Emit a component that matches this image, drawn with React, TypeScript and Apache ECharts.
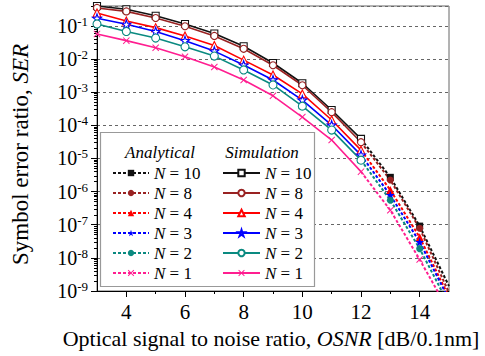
import React, { useEffect, useRef } from 'react';
import * as echarts from 'echarts';

// ---- data ----
const osnrSim = [3, 4, 5, 6, 7, 8, 9, 10, 11, 12];
const osnrAna = [12, 13, 14, 15];
const nValues = ['10', '8', '4', '3', '2', '1'];

const simN10 = [4.0e-1, 3.2e-1, 2.04e-1, 1.15e-1, 5.9e-2, 2.45e-2, 7.6e-3, 1.86e-3, 2.9e-4, 3.9e-5];
const simN8 = [3.5e-1, 2.75e-1, 1.74e-1, 9.8e-2, 5.0e-2, 2.04e-2, 6.5e-3, 1.62e-3, 2.5e-4, 3.1e-5];
const simN4 = [2.45e-1, 1.41e-1, 8.9e-2, 5.0e-2, 2.57e-2, 9.3e-3, 3.3e-3, 8.9e-4, 1.45e-4, 1.78e-5];
const simN3 = [1.7e-1, 1.12e-1, 6.8e-2, 3.6e-2, 1.74e-2, 6.6e-3, 2.34e-3, 5.8e-4, 1.02e-4, 1.26e-5];
const simN2 = [1.15e-1, 6.8e-2, 4.3e-2, 2.34e-2, 1.23e-2, 4.7e-3, 1.66e-3, 3.8e-4, 7.2e-5, 8.9e-6];
const simN1 = [5.75e-2, 3.6e-2, 2.2e-2, 1.17e-2, 5.75e-3, 2.34e-3, 7.8e-4, 1.78e-4, 3.6e-5, 4.0e-6];

const anaN10 = [3.9e-5, 2.7e-6, 9.1e-8, 1.4e-9];
const anaN8 = [3.1e-5, 2.24e-6, 7.8e-8, 8.9e-10];
const anaN4 = [1.78e-5, 1.12e-6, 4.2e-8, 6.6e-10];
const anaN3 = [1.26e-5, 7.8e-7, 3.0e-8, 5.5e-10];
const anaN2 = [8.9e-6, 5.5e-7, 1.9e-8, 3.8e-10];
const anaN1 = [4.0e-6, 2.75e-7, 8.9e-9, 2.4e-10];

const xTickLabels = [4, 6, 8, 10, 12, 14];
const xMinorTicks = [5, 7, 9, 11, 13];
const yDecades = [-9, -8, -7, -6, -5, -4, -3, -2, -1];
const yMin = 1e-9;
const yMax = 0.4;

const FONT = 'Liberation Serif';

const STAR = 'path://M5,0 L6.2,3.6 L10,3.6 L6.9,5.9 L8.1,9.5 L5,7.3 L1.9,9.5 L3.1,5.9 L0,3.6 L3.8,3.6 Z';
const XMARK = 'path://M0,1 L1,0 L5,4 L9,0 L10,1 L6,5 L10,9 L9,10 L5,6 L1,10 L0,9 L4,5 Z';

const colors = ['#111111', '#992222', '#ff0000', '#0000ff', '#0a8a80', '#ff1e90'];
const simData = [simN10, simN8, simN4, simN3, simN2, simN1];
const anaData = [anaN10, anaN8, anaN4, anaN3, anaN2, anaN1];
const simSymbols = ['rect', 'circle', 'triangle', STAR, 'circle', XMARK];
const anaSymbols = ['rect', 'circle', 'triangle', STAR, 'circle', XMARK];
const simSizes = [7, 7, 8, 9, 8, 7];
const anaSizes = [7, 7, 8, 9, 7, 7];

const simNames = nValues.map((n) => 'Simulation N=' + n);
const anaNames = nValues.map((n) => 'Analytical N=' + n);

export default function App() {
  const ref = useRef<HTMLDivElement>(null);

  useEffect(() => {
    document.body.style.margin = '0';
    if (!ref.current) return;
    const chart = echarts.init(ref.current, undefined, { renderer: 'svg' });

    const minorY: number[] = [];
    const logMax = Math.log10(yMax);
    yDecades.forEach((d) => {
      for (let k = 2; k <= 9; k++) {
        const v = d + Math.log10(k);
        if (v <= logMax + 1e-9) minorY.push(v);
      }
    });

    const series: any[] = [];
    anaData.forEach((arr, i) => {
      series.push({
        name: anaNames[i],
        type: 'line',
        xAxisIndex: 0,
        yAxisIndex: 0,
        data: osnrAna.map((x, j) => [x, arr[j]]),
        symbol: anaSymbols[i],
        symbolSize: (v: number[]) => (v[0] === 13 || v[0] === 14 ? anaSizes[i] : 0),
        itemStyle: { color: colors[i] },
        lineStyle: { color: colors[i], width: 2, type: [3, 2] },
        z: 2,
      });
    });
    simData.forEach((arr, i) => {
      const isX = i === 5;
      series.push({
        name: simNames[i],
        type: 'line',
        xAxisIndex: 0,
        yAxisIndex: 0,
        data: osnrSim.map((x, j) => [x, arr[j]]),
        symbol: simSymbols[i],
        symbolSize: simSizes[i],
        showAllSymbol: true,
        itemStyle: isX
          ? { color: colors[i] }
          : { color: '#ffffff', borderColor: colors[i], borderWidth: 1.1 },
        lineStyle: { color: colors[i], width: 1.6, type: 'solid' },
        z: 3,
      });
    });

    const nameOf = (name: string) => '{i|N} = ' + name.split('=')[1];
    const legendText = {
      fontFamily: FONT,
      fontSize: 17,
      color: '#000',
      lineHeight: 18,
      rich: {
        i: { fontFamily: FONT, fontSize: 17, fontStyle: 'italic', color: '#000', lineHeight: 18 },
      },
    };

    chart.setOption({
      animation: false,
      backgroundColor: '#ffffff',
      textStyle: { fontFamily: FONT },
      grid: {
        left: 97,
        right: 36,
        top: 6,
        bottom: 65,
        show: true,
        borderColor: '#666',
        borderWidth: 1,
        backgroundColor: 'transparent',
      },
      xAxis: [
        {
          type: 'value',
          min: 3,
          max: 15,
          position: 'bottom',
          name: 'Optical signal to noise ratio, {i|OSNR} [dB/0.1nm]',
          nameLocation: 'middle',
          nameGap: 36,
          nameTextStyle: {
            fontFamily: FONT,
            fontSize: 22,
            color: '#000',
            padding: [0, 4, 0, 0],
            rich: { i: { fontFamily: FONT, fontSize: 22, fontStyle: 'italic', color: '#000' } },
          },
          axisLine: { show: true, lineStyle: { color: '#000', width: 1 } },
          axisTick: { show: true, inside: false, length: 6, customValues: xTickLabels, lineStyle: { color: '#000' } },
          axisLabel: {
            customValues: xTickLabels,
            margin: 10,
            fontFamily: FONT,
            fontSize: 21,
            color: '#000',
          },
          splitLine: { show: false },
        },
        {
          type: 'value',
          min: 3,
          max: 15,
          position: 'bottom',
          axisLine: { show: false },
          axisTick: { show: true, inside: false, length: 3, customValues: xMinorTicks, lineStyle: { color: '#000' } },
          axisLabel: { show: false },
          splitLine: { show: false },
        },
      ],
      yAxis: [
        {
          type: 'log',
          logBase: 10,
          min: yMin,
          max: yMax,
          splitNumber: 10,
          position: 'left',
          name: 'Symbol error ratio, {i|SER}',
          nameLocation: 'middle',
          nameGap: 65,
          nameTextStyle: {
            fontFamily: FONT,
            fontSize: 23,
            color: '#000',
            padding: [0, 12, 0, 0],
            rich: { i: { fontFamily: FONT, fontSize: 23, fontStyle: 'italic', color: '#000' } },
          },
          axisLine: { show: true, lineStyle: { color: '#000', width: 1 } },
          axisTick: { show: true, inside: false, length: 6, lineStyle: { color: '#000' } },
          axisLabel: {
            margin: 9,
            formatter: (v: number) => {
              const l = Math.log10(v);
              const e = Math.round(l);
              if (Math.abs(l - e) > 1e-6) return '';
              return '{b|10}{s|' + e + '}';
            },
            rich: {
              b: { fontFamily: FONT, fontSize: 20, color: '#000', lineHeight: 22 },
              s: { fontFamily: FONT, fontSize: 13, color: '#000', verticalAlign: 'top', lineHeight: 22 },
            },
          },
          splitLine: { show: true, lineStyle: { color: '#666', type: [3, 3], width: 1 } },
        },
        {
          type: 'value',
          min: -9,
          max: logMax,
          position: 'left',
          axisLine: { show: false },
          axisTick: { show: true, inside: false, length: 3, customValues: minorY, lineStyle: { color: '#000' } },
          axisLabel: { show: false },
          splitLine: { show: false },
        },
      ],
      legend: [
        {
          data: anaNames,
          orient: 'vertical',
          left: 107,
          top: 159,
          itemWidth: 36,
          itemHeight: 8,
          itemGap: 2,
          selectedMode: false,
          formatter: nameOf,
          textStyle: legendText,
          z: 20,
        },
        {
          data: simNames,
          orient: 'vertical',
          left: 217,
          top: 159,
          itemWidth: 37,
          itemHeight: 8,
          itemGap: 2,
          selectedMode: false,
          formatter: nameOf,
          textStyle: legendText,
          z: 20,
        },
      ],
      graphic: [
        {
          type: 'rect',
          z: 15,
          shape: { x: 100.5, y: 132.5, width: 214, height: 154 },
          style: { fill: '#fff', stroke: '#999', lineWidth: 1.2 },
        },
        {
          type: 'text',
          z: 21,
          x: 160,
          y: 152,
          style: {
            text: 'Analytical',
            fontFamily: FONT,
            fontSize: 17,
            fontStyle: 'italic',
            fill: '#000',
            align: 'center',
            verticalAlign: 'middle',
          },
        },
        {
          type: 'text',
          z: 21,
          x: 262,
          y: 152,
          style: {
            text: 'Simulation',
            fontFamily: FONT,
            fontSize: 17,
            fontStyle: 'italic',
            fill: '#000',
            align: 'center',
            verticalAlign: 'middle',
          },
        },
      ],
      series,
    });

    return () => chart.dispose();
  }, []);

  return <div ref={ref} style={{ width: 485, height: 356 }} />;
}
